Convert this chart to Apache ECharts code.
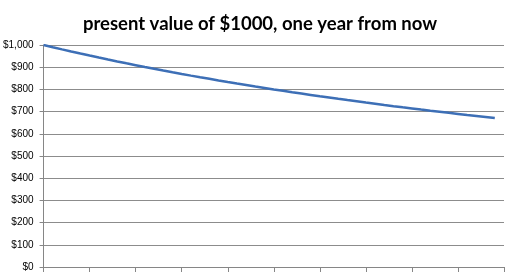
<!DOCTYPE html>
<html>
<head>
<meta charset="utf-8">
<script src="https://cdn.jsdelivr.net/npm/echarts@6/dist/echarts.min.js"></script>
<style>
html,body{margin:0;padding:0;background:#fff;}
#c{width:520px;height:272px;}
</style>
</head>
<body>
<div id="c"></div>
<script>
// interest rate (%) along x
var rates = [0,1,2,3,4,5,6,7,8,9,10,11,12,13,14,15,16,17,18,19,20,21,22,23,24,25,26,27,28,29,30,31,32,33,34,35,36,37,38,39,40,41,42,43,44,45,46,47,48,49];
// present value
var presentValue = [1000,990.1,980.4,970.9,961.5,952.4,943.4,934.6,925.9,917.4,909.1,900.9,892.9,885.0,877.2,869.6,862.1,854.7,847.5,840.3,833.3,826.4,819.7,813.0,806.5,800.0,793.7,787.4,781.3,775.2,769.2,763.4,757.6,751.9,746.3,740.7,735.3,729.9,724.6,719.4,714.3,709.2,704.2,699.3,694.4,689.7,684.9,680.3,675.7,671.1];
var yTicks = [0,100,200,300,400,500,600,700,800,900,1000];

var chart = echarts.init(document.getElementById('c'), null, {renderer:'canvas'});
var pts = rates.map(function(r,i){return [r, presentValue[i]];});
chart.setOption({
  animation:false,
  title:{
    text:'present value of $1000, one year from now',
    left:'center', top:10,
    textStyle:{fontFamily:'Lato', fontWeight:'bold', fontSize:18.5, color:'#000'}
  },
  grid:{left:42.5, right:16, top:45, bottom:1, containLabel:false},
  xAxis:{
    type:'value', min:0, max:50, interval:5,
    axisLine:{lineStyle:{color:'#868686', width:1}},
    axisTick:{show:true, length:5, lineStyle:{color:'#868686'}},
    axisLabel:{show:false},
    splitLine:{show:false}
  },
  yAxis:{
    type:'value', min:yTicks[0], max:yTicks[yTicks.length-1], interval:100,
    axisLine:{show:true, lineStyle:{color:'#868686', width:1}},
    axisTick:{show:true, length:4, lineStyle:{color:'#868686'}},
    axisLabel:{
      margin:10, fontFamily:'Liberation Sans', fontSize:10, color:'#000',
      formatter:function(v){return '$' + v.toLocaleString('en-US');}
    },
    splitLine:{lineStyle:{color:'#8c8c8c', width:1}}
  },
  series:[{
    type:'line', data:pts, showSymbol:false, smooth:false,
    lineStyle:{color:'#3d6fb6', width:2.5}
  }]
});
</script>
</body>
</html>
